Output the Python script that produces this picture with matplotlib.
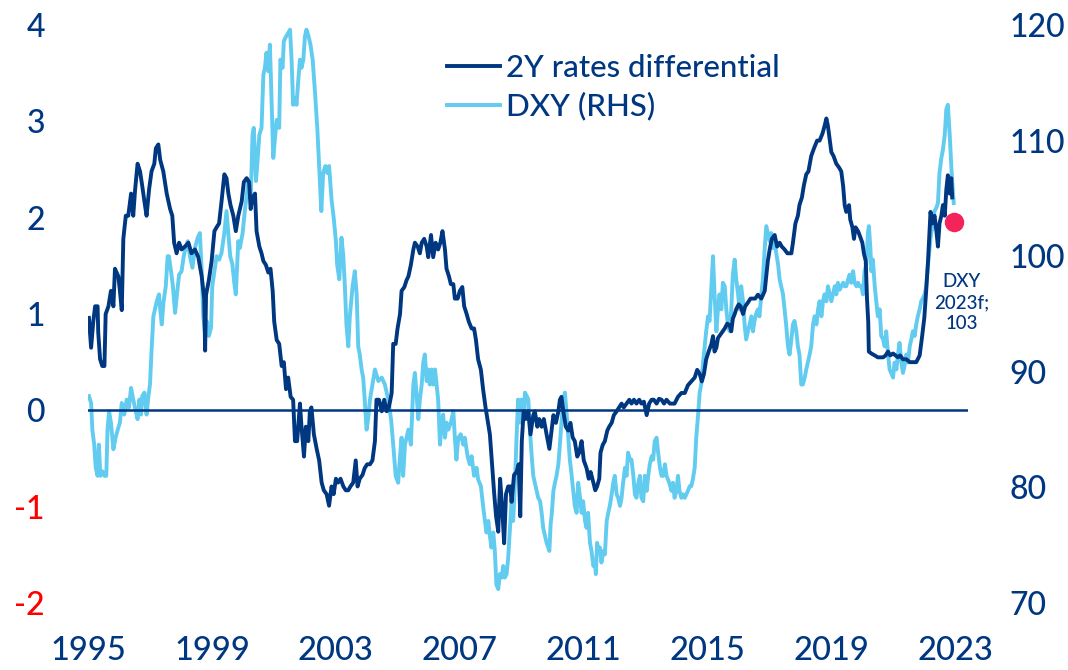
import matplotlib
matplotlib.use('Agg')
import matplotlib.pyplot as plt

plt.rcParams['font.family'] = ['Lato', 'DejaVu Sans']
plt.rcParams['font.weight'] = 500
plt.rcParams['axes.unicode_minus'] = False

# 2Y rates differential (left axis)
rate_years = [
    1995.03, 1995.10, 1995.17, 1995.23, 1995.31, 1995.33, 1995.39, 1995.46, 1995.53, 1995.57,
    1995.66, 1995.74, 1995.82, 1995.87, 1995.98, 1996.03, 1996.09, 1996.14, 1996.22, 1996.30,
    1996.39, 1996.46, 1996.52, 1996.60, 1996.68, 1996.75, 1996.82, 1996.89, 1996.97, 1997.05,
    1997.14, 1997.19, 1997.27, 1997.33, 1997.43, 1997.54, 1997.65, 1997.72, 1997.78, 1997.86,
    1997.94, 1998.02, 1998.13, 1998.24, 1998.34, 1998.45, 1998.56, 1998.67, 1998.75, 1998.78,
    1998.81, 1998.90, 1998.99, 1999.08, 1999.15, 1999.23, 1999.31, 1999.40, 1999.47, 1999.53,
    1999.60, 1999.69,
    1999.77, 1999.85, 1999.96, 2000.03, 2000.12, 2000.20, 2000.25, 2000.31, 2000.39, 2000.44,
    2000.53, 2000.60, 2000.66, 2000.74, 2000.82, 2000.89, 2000.96, 2001.01, 2001.09, 2001.17,
    2001.25, 2001.32, 2001.39, 2001.46, 2001.54, 2001.62, 2001.68, 2001.75, 2001.84, 2001.89,
    2001.97, 2002.03, 2002.11, 2002.16, 2002.21, 2002.29, 2002.38, 2002.46, 2002.54, 2002.61,
    2002.70, 2002.78, 2002.86, 2002.93, 2003.00, 2003.07, 2003.15, 2003.24, 2003.32, 2003.40,
    2003.47, 2003.56, 2003.64, 2003.70, 2003.77, 2003.86, 2003.93, 2004.01, 2004.10, 2004.18,
    2004.26, 2004.31,
    2004.39, 2004.48, 2004.56, 2004.64, 2004.71, 2004.80, 2004.85, 2004.93, 2004.99, 2005.07,
    2005.12, 2005.21, 2005.28, 2005.34, 2005.42, 2005.50, 2005.55, 2005.64, 2005.71, 2005.77,
    2005.85, 2005.93, 2005.98, 2006.07, 2006.14, 2006.22, 2006.30, 2006.37, 2006.44, 2006.52,
    2006.57, 2006.65, 2006.71, 2006.79, 2006.84, 2006.93, 2007.00, 2007.08, 2007.14, 2007.22,
    2007.29, 2007.38, 2007.46, 2007.52, 2007.59, 2007.68, 2007.75, 2007.83, 2007.89, 2007.97,
    2008.04, 2008.11, 2008.17, 2008.24, 2008.30, 2008.37, 2008.43, 2008.49, 2008.56, 2008.63,
    2008.67, 2008.75, 2008.83, 2008.90, 2008.95, 2009.00, 2009.06,
    2009.13, 2009.21, 2009.28, 2009.37, 2009.42, 2009.50, 2009.56, 2009.64, 2009.71, 2009.80,
    2009.89, 2009.96, 2010.02, 2010.10, 2010.18, 2010.23, 2010.28, 2010.34, 2010.42, 2010.50,
    2010.57, 2010.64, 2010.71, 2010.79, 2010.85, 2010.93, 2011.00, 2011.09, 2011.16, 2011.22,
    2011.31, 2011.37, 2011.43, 2011.50, 2011.54, 2011.61, 2011.68, 2011.76, 2011.82, 2011.90,
    2011.97, 2012.06, 2012.14, 2012.22, 2012.29, 2012.38, 2012.47, 2012.54, 2012.62, 2012.70,
    2012.79, 2012.86, 2012.94, 2013.03, 2013.11, 2013.19, 2013.26, 2013.35, 2013.43, 2013.51,
    2013.59, 2013.67, 2013.78,
    2013.83, 2013.93, 2014.04, 2014.15, 2014.26, 2014.36, 2014.47, 2014.58, 2014.66, 2014.74,
    2014.81, 2014.88, 2014.95, 2015.03, 2015.12, 2015.17, 2015.22, 2015.28, 2015.33, 2015.44,
    2015.55, 2015.63, 2015.71, 2015.76, 2015.81, 2015.87, 2015.92, 2016.00, 2016.06, 2016.14,
    2016.21, 2016.30, 2016.38, 2016.46, 2016.53, 2016.62, 2016.73, 2016.84, 2016.89, 2016.94,
    2017.00, 2017.07, 2017.16, 2017.24, 2017.32, 2017.39, 2017.48, 2017.57, 2017.64, 2017.70,
    2017.75, 2017.83, 2017.91, 2017.96, 2018.04, 2018.10, 2018.18, 2018.25, 2018.34, 2018.43,
    2018.53, 2018.61, 2018.70, 2018.77, 2018.83, 2018.88, 2018.94, 2018.99, 2019.06, 2019.15,
    2019.24, 2019.31, 2019.37, 2019.42, 2019.47, 2019.56, 2019.60, 2019.67, 2019.72, 2019.77,
    2019.85, 2019.90, 2019.99, 2020.04, 2020.10, 2020.14, 2020.18, 2020.20, 2020.28, 2020.39,
    2020.49, 2020.57, 2020.66, 2020.74, 2020.82, 2020.89, 2020.98, 2021.06, 2021.14, 2021.21,
    2021.30, 2021.41, 2021.52, 2021.62, 2021.73, 2021.84, 2021.92, 2021.99, 2022.05, 2022.11,
    2022.16, 2022.19, 2022.25, 2022.32, 2022.38, 2022.43, 2022.48, 2022.54, 2022.59, 2022.65,
    2022.70, 2022.75, 2022.81, 2022.86, 2022.89,
]
rate_vals = [
    0.96, 0.65, 0.92, 1.08, 1.08, 0.81, 0.53, 0.46, 0.46, 1.00,
    1.08, 1.24, 1.08, 1.47, 1.39, 1.24, 1.04, 1.78, 2.02, 2.02,
    2.25, 2.02, 2.29, 2.56, 2.48, 2.33, 2.17, 2.02, 2.29, 2.48,
    2.56, 2.72, 2.76, 2.60, 2.48, 2.25, 2.09, 2.02, 1.74, 1.63,
    1.74, 1.67, 1.70, 1.74, 1.63, 1.67, 1.59, 1.39, 1.16, 0.62,
    1.20, 1.35, 1.55, 1.86, 1.90, 1.94, 2.17, 2.45, 2.41, 2.25,
    2.13, 2.02,
    1.86, 2.02, 2.17, 2.37, 2.41, 2.37, 2.09, 2.21, 2.25, 1.86,
    1.70, 1.63, 1.55, 1.51, 1.43, 1.47, 1.24, 0.92, 0.73, 0.69,
    0.46, 0.50, 0.22, 0.34, 0.14, 0.11, -0.32, -0.32, 0.07, -0.17,
    -0.48, -0.17, -0.32, -0.01, 0.03, -0.25, -0.40, -0.52, -0.75, -0.83,
    -0.87, -0.99, -0.79, -0.87, -0.71, -0.75, -0.71, -0.79, -0.83, -0.83,
    -0.79, -0.75, -0.52, -0.79, -0.71, -0.67, -0.60, -0.56, -0.56, -0.52,
    -0.32, 0.11,
    0.11, -0.01, 0.11, -0.01, 0.03, 0.18, 0.69, 0.69, 0.85, 1.00,
    1.24, 1.28, 1.35, 1.39, 1.51, 1.67, 1.74, 1.70, 1.63, 1.74,
    1.78, 1.70, 1.59, 1.82, 1.59, 1.74, 1.67, 1.74, 1.86, 1.67,
    1.47, 1.39, 1.31, 1.31, 1.16, 1.16, 1.24, 1.28, 1.08, 1.00,
    0.92, 0.85, 0.85, 0.73, 0.53, 0.42, 0.22, 0.03, -0.09, -0.25,
    -0.56, -0.87, -1.10, -1.26, -0.71, -1.03, -1.38, -0.87, -0.79, -0.79,
    -0.95, -0.67, -0.64, -0.56, -1.10, -0.32, -0.01,
    -0.09, -0.01, -0.25, -0.05, -0.01, -0.17, -0.09, -0.17, -0.09, -0.25,
    -0.40, -0.21, -0.05, -0.13, -0.01, 0.11, 0.14, -0.01, -0.17, -0.21,
    -0.13, -0.28, -0.32, -0.48, -0.44, -0.32, -0.52, -0.60, -0.71, -0.64,
    -0.75, -0.83, -0.79, -0.71, -0.44, -0.36, -0.32, -0.21, -0.17, -0.13,
    -0.05, -0.01, 0.03, 0.07, 0.03, 0.07, 0.11, 0.07, 0.11, 0.07,
    0.11, 0.07, 0.09, -0.05, 0.07, 0.11, 0.11, 0.07, 0.12, 0.11,
    0.07, 0.11, 0.07,
    0.07, 0.07, 0.14, 0.18, 0.18, 0.26, 0.30, 0.34, 0.42, 0.38,
    0.30, 0.38, 0.53, 0.61, 0.69, 0.77, 0.61, 0.65, 0.75, 0.80,
    0.85, 0.90, 0.88, 0.82, 0.95, 1.00, 1.05, 1.10, 1.08, 1.00,
    1.08, 1.12, 1.16, 1.16, 1.16, 1.20, 1.16, 1.24, 1.39, 1.55,
    1.67, 1.78, 1.82, 1.70, 1.74, 1.70, 1.67, 1.63, 1.63, 1.63,
    1.74, 1.94, 2.02, 2.13, 2.21, 2.33, 2.45, 2.48, 2.64, 2.72,
    2.80, 2.80, 2.87, 2.95, 3.03, 2.95, 2.80, 2.68, 2.64, 2.56,
    2.52, 2.48, 2.33, 2.13, 2.06, 2.13, 1.98, 1.90, 1.78, 1.90,
    1.86, 1.82, 1.74, 1.63, 1.55, 1.16, 0.92, 0.61, 0.59, 0.57,
    0.55, 0.55, 0.55, 0.57, 0.61, 0.57, 0.59, 0.57, 0.55, 0.57,
    0.53, 0.53, 0.50, 0.50, 0.50, 0.57, 0.77, 0.96, 1.24, 1.55,
    1.86, 2.06, 1.94, 2.02, 1.86, 1.70, 1.94, 2.02, 2.13, 2.02,
    2.29, 2.44, 2.25, 2.41, 2.21,
]

# DXY (right axis)
dxy_years = [
    1995.03, 1995.10, 1995.14, 1995.20, 1995.25, 1995.31, 1995.35, 1995.40, 1995.46, 1995.53,
    1995.59, 1995.63, 1995.68, 1995.74, 1995.82, 1995.89, 1995.96, 1996.03, 1996.09, 1996.17,
    1996.25, 1996.32, 1996.39, 1996.46, 1996.54, 1996.60, 1996.66, 1996.71, 1996.75, 1996.82,
    1996.89, 1996.95, 1997.00, 1997.05, 1997.11, 1997.16, 1997.22, 1997.29, 1997.33, 1997.38,
    1997.44, 1997.51, 1997.57, 1997.61, 1997.68, 1997.74, 1997.81, 1997.87, 1997.94, 1998.02,
    1998.09, 1998.15, 1998.22, 1998.29, 1998.37, 1998.45, 1998.54, 1998.61, 1998.67, 1998.72,
    1998.77, 1998.83, 1998.90, 1998.97, 1999.01, 1999.08, 1999.15, 1999.23, 1999.31, 1999.40,
    1999.47, 1999.53, 1999.59, 1999.66, 1999.72,
    1999.77, 1999.85, 1999.90, 1999.99, 2000.06, 2000.12, 2000.17, 2000.25, 2000.31, 2000.35,
    2000.42, 2000.46, 2000.53, 2000.60, 2000.66, 2000.71, 2000.76, 2000.82, 2000.87, 2000.92,
    2000.98, 2001.03, 2001.09, 2001.17, 2001.21, 2001.28, 2001.32, 2001.39, 2001.46, 2001.52,
    2001.57, 2001.62, 2001.68, 2001.73, 2001.78, 2001.84, 2001.89, 2001.95, 2002.00, 2002.05,
    2002.12, 2002.18, 2002.25, 2002.32, 2002.40, 2002.46, 2002.53, 2002.59, 2002.66, 2002.72,
    2002.78, 2002.86, 2002.93, 2003.00, 2003.04, 2003.11, 2003.18, 2003.24, 2003.29, 2003.34,
    2003.40, 2003.45, 2003.54, 2003.61, 2003.67, 2003.72, 2003.77, 2003.83, 2003.88, 2003.93,
    2003.99, 2004.04, 2004.10, 2004.18, 2004.26,
    2004.37, 2004.48, 2004.58, 2004.69, 2004.78, 2004.85, 2004.93, 2005.01, 2005.07, 2005.12,
    2005.17, 2005.23, 2005.28, 2005.34, 2005.42, 2005.50, 2005.55, 2005.60, 2005.66, 2005.71,
    2005.77, 2005.82, 2005.87, 2005.93, 2005.98, 2006.03, 2006.09, 2006.14, 2006.20, 2006.25,
    2006.30, 2006.36, 2006.41, 2006.46, 2006.52, 2006.57, 2006.63, 2006.71, 2006.79, 2006.84,
    2006.89, 2006.95, 2007.03, 2007.11, 2007.16, 2007.25, 2007.32, 2007.38, 2007.46, 2007.54,
    2007.59, 2007.68, 2007.75, 2007.81, 2007.86, 2007.92, 2007.97, 2008.02, 2008.08, 2008.13,
    2008.18, 2008.24, 2008.29, 2008.35, 2008.40, 2008.45, 2008.51, 2008.56, 2008.61, 2008.67,
    2008.72, 2008.78, 2008.83, 2008.88, 2008.94, 2008.99, 2009.08,
    2009.10, 2009.16, 2009.21, 2009.26, 2009.32, 2009.37, 2009.42, 2009.48, 2009.53, 2009.59,
    2009.64, 2009.69, 2009.75, 2009.80, 2009.85, 2009.89, 2009.93, 2009.97, 2010.02, 2010.07,
    2010.12, 2010.18, 2010.23, 2010.28, 2010.34, 2010.39, 2010.45, 2010.50, 2010.55, 2010.61,
    2010.66, 2010.71, 2010.77, 2010.82, 2010.88, 2010.93, 2010.98, 2011.04, 2011.09, 2011.14,
    2011.20, 2011.25, 2011.31, 2011.36, 2011.39, 2011.43, 2011.48, 2011.52, 2011.57, 2011.63,
    2011.68, 2011.74, 2011.79, 2011.84, 2011.90, 2011.95, 2012.00, 2012.06, 2012.11, 2012.17,
    2012.22, 2012.27, 2012.33, 2012.38, 2012.43, 2012.49, 2012.54, 2012.60, 2012.65, 2012.70,
    2012.76, 2012.81, 2012.86, 2012.92, 2012.97, 2013.03, 2013.08, 2013.13, 2013.19, 2013.24,
    2013.29, 2013.35, 2013.40, 2013.46, 2013.51, 2013.56, 2013.62, 2013.67, 2013.76,
    2013.83, 2013.88, 2013.93, 2013.99, 2014.04, 2014.09, 2014.15, 2014.20, 2014.26, 2014.31,
    2014.36, 2014.42, 2014.47, 2014.52, 2014.58, 2014.63, 2014.69, 2014.74, 2014.79, 2014.85,
    2014.90, 2014.95, 2015.01, 2015.06, 2015.12, 2015.17, 2015.22, 2015.28, 2015.33, 2015.38,
    2015.44, 2015.49, 2015.55, 2015.60, 2015.65, 2015.71, 2015.76, 2015.81, 2015.87, 2015.92,
    2015.98, 2016.03, 2016.08, 2016.14, 2016.19, 2016.24, 2016.30, 2016.35, 2016.41, 2016.46,
    2016.51, 2016.57, 2016.62, 2016.67, 2016.73, 2016.78, 2016.84, 2016.89, 2016.94, 2017.00,
    2017.05, 2017.10, 2017.16, 2017.21, 2017.27, 2017.32, 2017.37, 2017.43, 2017.48, 2017.53,
    2017.59, 2017.64, 2017.70, 2017.75, 2017.80, 2017.86, 2017.91, 2017.96, 2018.02, 2018.07,
    2018.13, 2018.18, 2018.23, 2018.29,
    2018.34, 2018.40, 2018.45, 2018.51, 2018.56, 2018.61, 2018.67, 2018.72, 2018.77, 2018.83,
    2018.88, 2018.94, 2018.99, 2019.04, 2019.10, 2019.15, 2019.20, 2019.26, 2019.31, 2019.37,
    2019.42, 2019.47, 2019.53, 2019.58, 2019.63, 2019.69, 2019.74, 2019.80, 2019.85, 2019.90,
    2019.96, 2020.01, 2020.06, 2020.12, 2020.17, 2020.20, 2020.25, 2020.28, 2020.33, 2020.39,
    2020.44, 2020.49, 2020.55, 2020.60, 2020.66, 2020.71, 2020.76, 2020.82, 2020.87, 2020.92,
    2020.98, 2021.03, 2021.09, 2021.14, 2021.19, 2021.25, 2021.30, 2021.35, 2021.41, 2021.46,
    2021.52, 2021.57, 2021.62, 2021.68, 2021.73, 2021.78, 2021.84, 2021.89, 2021.95, 2022.00,
    2022.05, 2022.11, 2022.16, 2022.21, 2022.27, 2022.32, 2022.38, 2022.43, 2022.48, 2022.54,
    2022.59, 2022.65, 2022.70, 2022.75, 2022.81, 2022.86, 2022.89, 2022.94,
]
dxy_vals = [
    87.9, 87.3, 85.0, 83.7, 81.7, 81.0, 83.7, 81.0, 81.4, 81.0,
    81.0, 85.0, 86.6, 85.6, 83.3, 84.3, 85.0, 85.6, 87.3, 86.3,
    87.6, 86.9, 88.6, 87.6, 86.6, 85.9, 87.6, 86.3, 87.9, 88.2,
    86.3, 87.9, 88.9, 91.8, 94.8, 95.4, 96.1, 96.7, 95.4, 94.1,
    96.1, 97.4, 100.0, 100.0, 98.7, 97.4, 95.1, 96.7, 98.4, 98.7,
    100.0, 100.7, 101.3, 100.0, 99.0, 100.7, 101.6, 102.0, 98.7, 94.8,
    93.5, 94.4, 93.1, 93.8, 97.4, 98.7, 100.0, 99.7, 100.3, 102.0,
    103.9, 102.0, 100.0, 99.3, 97.7,
    96.7, 101.3, 100.7, 102.0, 103.9, 105.2, 106.5, 104.9, 110.5, 111.1,
    106.5, 107.8, 110.5, 111.1, 115.7, 116.3, 117.6, 116.0, 118.3, 113.7,
    108.5, 110.1, 111.8, 111.1, 117.0, 116.3, 118.6, 119.0, 119.3, 119.6,
    117.0, 113.1, 113.7, 113.1, 115.0, 117.0, 116.3, 117.0, 119.0, 119.6,
    119.0, 118.3, 117.0, 114.4, 111.1, 107.8, 103.9, 107.2, 107.8, 107.2,
    107.8, 104.9, 103.3, 101.3, 99.3, 98.0, 101.6, 100.0, 97.4, 94.1,
    92.2, 94.8, 97.4, 98.7, 96.7, 92.2, 91.5, 90.2, 89.5, 87.6,
    85.0, 85.9, 87.6, 88.9, 90.2,
    89.2, 89.5, 88.9, 87.6, 85.9, 83.7, 81.0, 80.4, 82.7, 84.3,
    81.0, 83.7, 84.3, 85.0, 83.7, 88.9, 89.9, 88.2, 85.9, 87.6,
    88.9, 90.8, 91.5, 89.2, 90.2, 88.9, 90.2, 88.9, 90.2, 88.9,
    87.6, 83.7, 85.6, 86.3, 84.3, 85.6, 85.0, 85.6, 86.6, 84.3,
    82.4, 84.3, 84.6, 83.7, 84.3, 82.7, 82.0, 82.7, 81.0, 81.7,
    80.7, 80.1, 78.4, 77.1, 76.1, 77.1, 75.8, 74.8, 76.1, 74.5,
    71.6, 71.2, 72.5, 72.2, 73.2, 72.2, 72.5, 73.9, 76.1, 78.8,
    77.1, 80.4, 84.3, 87.6, 85.6, 87.6, 86.6,
    88.2, 87.9, 87.6, 85.0, 82.7, 81.0, 80.4, 79.7, 79.1, 78.8,
    77.8, 76.5, 75.8, 75.2, 74.8, 74.5, 76.8, 77.8, 79.7, 80.4,
    81.0, 82.0, 83.7, 85.6, 87.6, 88.2, 86.3, 84.3, 82.4, 81.0,
    79.7, 78.4, 77.8, 80.4, 79.1, 77.8, 78.8, 77.1, 76.5, 77.8,
    75.2, 74.5, 73.2, 73.5, 72.5, 75.2, 74.5, 74.8, 73.5, 74.5,
    74.2, 77.1, 77.8, 78.4, 79.4, 80.4, 81.0, 79.4, 79.1, 78.4,
    79.1, 80.4, 81.7, 81.0, 83.0, 82.4, 82.4, 81.0, 79.4, 79.1,
    80.4, 81.0, 79.1, 78.8, 81.0, 79.7, 81.0, 82.0, 82.7, 82.4,
    84.0, 84.3, 83.0, 81.7, 81.0, 81.0, 82.0, 81.0, 80.4,
    79.7, 80.4, 79.1, 79.7, 81.0, 79.7, 79.1, 79.4, 79.1, 79.4,
    79.7, 80.1, 80.1, 80.7, 81.7, 84.3, 86.3, 88.2, 88.9, 90.8,
    92.2, 93.5, 94.8, 94.4, 97.4, 100.0, 96.7, 93.5, 95.4, 96.7,
    95.4, 97.7, 97.4, 95.4, 94.1, 93.5, 95.4, 98.4, 99.7, 98.0,
    96.7, 95.4, 97.4, 96.1, 94.1, 92.8, 93.5, 94.1, 94.8, 93.5,
    94.4, 95.1, 95.4, 94.8, 96.7, 98.0, 100.7, 102.6, 102.0, 101.3,
    102.0, 100.7, 101.3, 100.3, 99.3, 98.0, 97.4, 96.7, 95.4, 94.1,
    92.2, 91.5, 92.8, 94.1, 94.4, 93.5, 92.2, 91.5, 88.9, 88.9,
    89.5, 90.2, 90.8, 91.5,
    92.2, 94.1, 94.8, 94.1, 95.4, 96.1, 94.8, 96.1, 96.7, 96.1,
    97.4, 96.7, 96.1, 96.7, 97.4, 96.7, 97.7, 97.1, 97.4, 97.7,
    97.4, 97.4, 98.0, 98.4, 97.7, 98.7, 97.7, 97.4, 97.7, 97.4,
    97.4, 96.7, 98.7, 99.3, 102.0, 102.6, 100.7, 98.7, 99.7, 97.4,
    96.1, 94.8, 95.4, 93.1, 92.8, 92.2, 93.5, 91.5, 90.2, 89.9,
    89.5, 90.8, 90.2, 91.5, 92.5, 90.8, 89.9, 90.5, 91.5, 90.8,
    92.2, 92.8, 93.5, 93.1, 94.1, 94.8, 95.4, 96.1, 96.4, 96.7,
    97.4, 99.3, 100.7, 102.0, 102.6, 103.9, 104.2, 104.6, 107.2, 108.5,
    109.2, 110.5, 112.7, 113.1, 110.5, 107.8, 106.5, 104.6,
]

# forecast point
dot_year = 2022.95
dot_value = 103

year_ticks = [1995, 1999, 2003, 2007, 2011, 2015, 2019, 2023]
left_ticks = [-2, -1, 0, 1, 2, 3, 4]
right_ticks = [70, 80, 90, 100, 110, 120]

NAVY = '#003781'
LIGHT = '#62CBF0'
RED = '#FF0000'
DOT = '#F4235A'

fig = plt.figure(figsize=(10.68, 6.70), dpi=100)
ax1 = fig.add_axes([88 / 1068, 67 / 670, 880 / 1068, 578 / 670])
ax2 = ax1.twinx()
ax1.set_zorder(ax2.get_zorder() + 1)
ax1.patch.set_visible(False)

ax1.axhline(0, color=NAVY, lw=1.8, zorder=1)
l1, = ax1.plot(rate_years, rate_vals, color=NAVY, lw=2.8, zorder=3,
               label='2Y rates differential')
l2, = ax2.plot(dxy_years, dxy_vals, color=LIGHT, lw=2.8, label='DXY (RHS)')
ax2.plot([dot_year], [dot_value], 'o', ms=13, color=DOT, zorder=5)
ax2.text(2023.2, 96, 'DXY\n2023f;\n103', ha='center', va='center',
         fontsize=13.5, color=NAVY, linespacing=1.3)

for ax in (ax1, ax2):
    for s in ax.spines.values():
        s.set_visible(False)
    ax.tick_params(length=0)

ax1.set_xlim(1995, 2023.4)
ax1.set_ylim(-2, 4)
ax2.set_ylim(70, 120)

ax1.set_xticks(year_ticks)
ax1.set_xticklabels([str(y) for y in year_ticks])
ax1.set_yticks(left_ticks)
ax1.set_yticklabels([str(v) for v in left_ticks])
ax2.set_yticks(right_ticks)
ax2.set_yticklabels([str(v) for v in right_ticks])

ax1.tick_params(axis='x', pad=24, labelsize=23.5, labelcolor=NAVY)
ax1.tick_params(axis='y', pad=31, labelsize=23, labelcolor=NAVY)
ax2.tick_params(axis='y', pad=30, labelsize=23, labelcolor=NAVY)
for lbl, v in zip(ax1.get_yticklabels(), left_ticks):
    if v < 0:
        lbl.set_color(RED)

ax1.legend(handles=[l1, l2], loc='upper left',
           bbox_to_anchor=(447 / 1068, 1 - 54 / 670), bbox_transform=fig.transFigure,
           frameon=False, borderpad=0, borderaxespad=0, handlelength=1.7,
           handletextpad=0.2, labelspacing=0.32, fontsize=22.5, labelcolor=NAVY)

fig.savefig('out.png', dpi=100)
